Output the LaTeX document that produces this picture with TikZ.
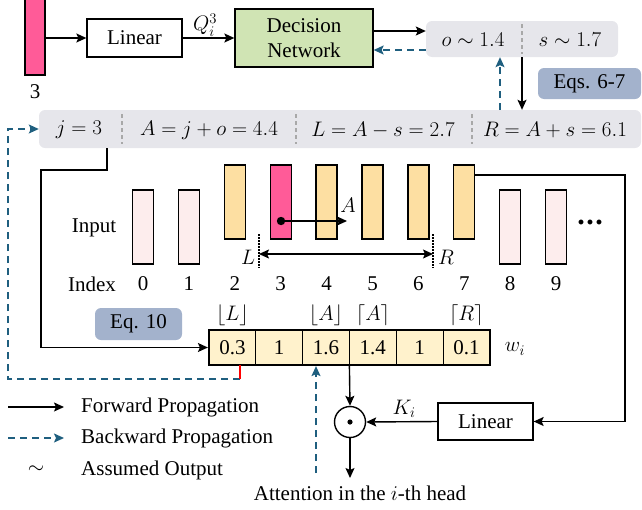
\documentclass[tikz,border=0pt]{standalone}
\usepackage{fix-cm}
\usepackage{amsmath}
\usepackage{fontspec}
\setmainfont{Liberation Serif}
\usetikzlibrary{arrows.meta,calc}
\definecolor{pinkc}{HTML}{FF5B98}
\definecolor{palep}{HTML}{FDEDED}
\definecolor{orangey}{HTML}{FDDFA2}
\definecolor{celly}{HTML}{FFF2CC}
\definecolor{greenc}{HTML}{D0E4B4}
\definecolor{grayb}{HTML}{E6E6EB}
\definecolor{eqc}{HTML}{A3B2CC}
\definecolor{blued}{HTML}{1F5F7F}
\definecolor{divc}{HTML}{A8A8A8}
\tikzset{
  box/.style={draw, line width=1.3pt, inner sep=0pt, align=center},
  bar/.style={draw, line width=1.3pt, minimum width=21pt, minimum height=74pt, inner sep=0pt},
  graybar/.style={fill=grayb, rounded corners=6pt, inner sep=0pt},
  eqbox/.style={fill=eqc, rounded corners=6pt, inner sep=0pt},
  fwd/.style={line width=1.4pt, -{Stealth[length=10pt,width=9pt,inset=2pt]}},
  bwd/.style={line width=1.4pt, blued, dash pattern=on 7pt off 5pt, -{Stealth[length=10pt,width=9pt,inset=2pt]}},
  divline/.style={divc, line width=1.2pt, dash pattern=on 4pt off 3pt},
  cell/.style={draw, line width=1pt, fill=celly, minimum width=46.8pt, minimum height=35pt, inner sep=0pt},
  lbl/.style={inner sep=0pt},
}
\begin{document}
\begin{tikzpicture}[x=1pt,y=-1pt,font=\fontsize{21}{24}\selectfont]
\useasboundingbox (0,0) rectangle (642,509);
% top
\node[bar, fill=pinkc, minimum width=20pt, minimum height=78pt] (q) at (35,36) {};
\node[lbl] (q3) at (35,92) {3};
\node[box, minimum width=95pt, minimum height=38pt] (lin1) at (134.5,38) {Linear};
\node[box, fill=greenc, minimum width=138pt, minimum height=58pt] (dn) at (304,38) {Decision\\[1pt]Network};
\node[lbl] (qlab) at (205,25) {$Q_i^3$};
\draw[fwd] (q.east |- lin1.west) -- (lin1.west);
\draw[fwd] (lin1.east) -- (dn.west);
\node[graybar, minimum width=192pt, minimum height=36pt] (tg) at (522,39) {};
\draw[divline] (522,24) -- (522,54);
\node[lbl] (ot) at (473,40) {$o\sim 1.4$};
\node[lbl] (st) at (570,40) {$s\sim 1.7$};
\draw[fwd] ([yshift=7pt]dn.east) -- ([yshift=7pt]dn.east -| tg.west);
\draw[bwd] ([yshift=-12pt]dn.east -| tg.west) -- ([yshift=-12pt]dn.east);
\node[eqbox, minimum width=103pt, minimum height=31pt] (eq67) at (589.5,83.5) {Eqs. 6-7};
% bottom gray bar
\node[graybar, minimum width=602pt, minimum height=38pt] (bb) at (340,129) {};
\draw[divline] (122,114) -- (122,144);
\draw[divline] (296,114) -- (296,144);
\draw[divline] (472,114) -- (472,144);
\node[lbl] (jt) at (79,130) {$j=3$};
\node[lbl] (at) at (209,130) {$A=j+o=4.4$};
\node[lbl] (lt) at (383,130) {$L=A-s=2.7$};
\node[lbl] (rt) at (555,130) {$R=A+s=6.1$};
\draw[fwd] (tg.south) -- (tg.south |- bb.north);
\draw[bwd] ([xshift=-22pt]tg.south |- bb.north) -- ([xshift=-22pt]tg.south);
% tokens
\foreach \k/\c in {0/palep,1/palep,8/palep,9/palep}{
  \node[bar, fill=\c] (b\k) at ({143+45.9*\k},227) {};
}
\foreach \k/\c in {2/orangey,3/pinkc,4/orangey,5/orangey,6/orangey,7/orangey}{
  \node[bar, fill=\c] (b\k) at ({143+45.9*\k},202) {};
}
\foreach \k in {0,...,9}{
  \node[lbl] (i\k) at ({143+45.9*\k},284) {\k};
}
\node[lbl] (idx) at (92,284) {Index};
\node[lbl] (inp) at (94,228) {Input};
\node[lbl] (dots) at (590,222) {\fontsize{30}{30}\selectfont\textbf{.\kern1.5pt.\kern1.5pt.}};
\fill (281,221) circle (4.2pt) coordinate (adot);
\coordinate (aend) at (347,221);
\draw[fwd] (adot) -- (aend);
\node[lbl] (alab) at (348,205) {$A$};
\draw[line width=1.2pt, dash pattern=on 1.5pt off 1.5pt] (259,234) coordinate (lt1) -- (259,268) coordinate (lb1);
\draw[line width=1.2pt, dash pattern=on 1.5pt off 1.5pt] (433,234) coordinate (rt1) -- (433,268) coordinate (rb1);
\draw[line width=1.4pt, {Stealth[length=10pt,width=9pt,inset=2pt]}-{Stealth[length=10pt,width=9pt,inset=2pt]}] (lt1 |- 0,254) -- (rt1 |- 0,254);
\node[lbl] (llab) at (248,257) {$L$};
\node[lbl] (rlab) at (446,257) {$R$};
% weights
\foreach \k/\v in {0/0.3,1/1,2/1.6,3/1.4,4/1,5/0.1}{
  \node[cell] (c\k) at ({232.4+46.8*\k},347.5) {\v};
}
\node[draw, line width=2.2pt, minimum width=280.8pt, minimum height=35pt, inner sep=0pt] (w) at (349.4,347.5) {};
\node[lbl] (fl) at (232.4,315) {$\lfloor L\rfloor$};
\node[lbl] (fa) at (326,315) {$\lfloor A\rfloor$};
\node[lbl] (ca) at (373,315) {$\lceil A\rceil$};
\node[lbl] (cr) at (466.4,315) {$\lceil R\rceil$};
\node[lbl] (wl) at (515,349) {$w_i$};
\node[eqbox, minimum width=87pt, minimum height=32pt] (eq10) at (138.5,324) {Eq. 10};
% left path
\coordinate (jout) at (107,148);
\draw[fwd] (jout) |- (41,170) |- (w.west);
% red and backward path
\coordinate (rtop) at (240,365);
\coordinate (rbot) at (240,379);
\draw[bwd] (rbot) -| (8,129) -- (bb.west);
\draw[red, line width=1.2pt] (rtop) -- (rbot);
% right path
\node[box, minimum width=95pt, minimum height=37pt] (lin2) at (485.5,421.5) {Linear};
\draw[fwd] ([yshift=27pt]b7.east) -| (625,300) |- (lin2.east);
% circle
\node[draw, circle, line width=1.4pt, minimum size=31pt, inner sep=0pt] (od) at (350,422) {};
\fill (od.center) circle (2.6pt);
\draw[fwd] (w.south) -- (od.north);
\draw[fwd] (lin2.west) -- (od.east);
\node[lbl] (kl) at (404,409) {$K_i$};
\coordinate (attend) at (350,478);
\draw[fwd] (od.south) -- (attend);
\node[lbl] (att) at (360,493) {Attention in the $i$-th head};
\coordinate (bup) at (316,473);
\draw[bwd] (bup) -- (bup |- w.south);
% legend
\coordinate (f1) at (8,407); \coordinate (f2) at (64,407);
\draw[fwd] (f1) -- (f2);
\node[lbl, anchor=west] (ft) at (81,407) {Forward Propagation};
\coordinate (g1) at (8,438); \coordinate (g2) at (64,438);
\draw[bwd] (g1) -- (g2);
\node[lbl, anchor=west] (gt) at (81,438) {Backward Propagation};
\node[lbl] (tl) at (36,470) {$\sim$};
\node[lbl, anchor=west] (tt) at (81,470) {Assumed Output};
\end{tikzpicture}
\end{document}
